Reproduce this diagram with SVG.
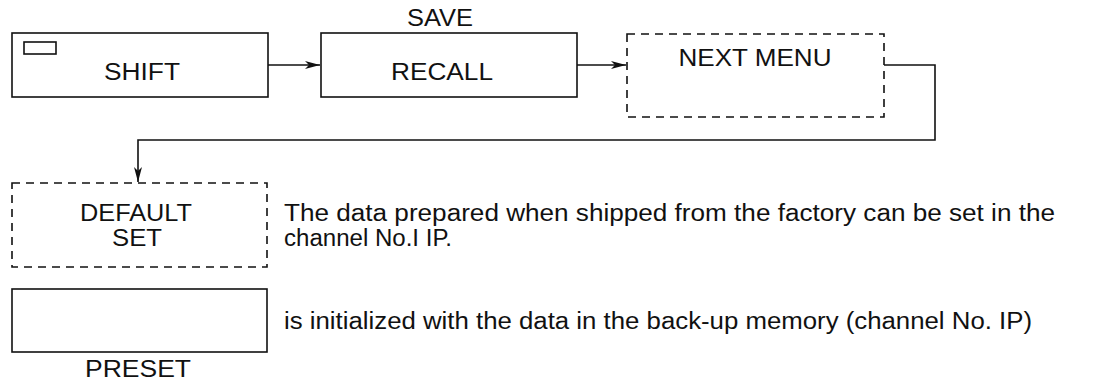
<svg xmlns="http://www.w3.org/2000/svg" width="1095" height="383" viewBox="0 0 1095 383">
<style>
.box{fill:none;stroke:#111;stroke-width:1.6}
.dash{fill:none;stroke:#111;stroke-width:1.6;stroke-dasharray:8 6}
.lbl{font-family:"Liberation Sans",Arial,sans-serif;font-size:23px;fill:#111;text-anchor:middle}
.txt{font-family:"Liberation Sans",Arial,sans-serif;font-size:23px;fill:#111}
.con{fill:none;stroke:#111;stroke-width:1.6}
</style>
<defs>
<marker id="ah" markerWidth="16" markerHeight="10" refX="15" refY="5" orient="auto" markerUnits="userSpaceOnUse">
<path d="M0,1 L15,5 L0,9 L4,5 Z" fill="#111"/>
</marker>
</defs>
<g id="connectors">
<line class="con" x1="268" y1="65" x2="320" y2="65" marker-end="url(#ah)"/>
<line class="con" x1="577" y1="65" x2="626" y2="65" marker-end="url(#ah)"/>
<polyline class="con" points="884,65 935,65 935,140 138,140 138,182" marker-end="url(#ah)"/>
</g>
<g id="shift">
<rect class="box" x="12" y="33" width="256" height="64"/>
<rect class="box" x="24" y="42" width="32" height="12"/>
<text class="lbl" x="142" y="80" textLength="76" lengthAdjust="spacingAndGlyphs">SHIFT</text>
</g>
<g id="recall">
<rect class="box" x="321" y="33" width="256" height="64"/>
<text class="lbl" x="440" y="26" textLength="66" lengthAdjust="spacingAndGlyphs">SAVE</text>
<text class="lbl" x="442" y="80" textLength="102" lengthAdjust="spacingAndGlyphs">RECALL</text>
</g>
<g id="nextmenu">
<rect class="dash" x="627" y="34" width="257" height="83"/>
<text class="lbl" x="755" y="66" textLength="153" lengthAdjust="spacingAndGlyphs">NEXT MENU</text>
</g>
<g id="defaultset">
<rect class="dash" x="12" y="183" width="255" height="84"/>
<text class="lbl" x="136" y="221" textLength="112" lengthAdjust="spacingAndGlyphs">DEFAULT</text>
<text class="lbl" x="137" y="246" textLength="50" lengthAdjust="spacingAndGlyphs">SET</text>
</g>
<g id="preset">
<rect class="box" x="12" y="289" width="255" height="63"/>
<text class="lbl" x="138" y="377" textLength="106" lengthAdjust="spacingAndGlyphs">PRESET</text>
</g>
<g id="notes">
<text class="txt" x="284" y="221" textLength="771" lengthAdjust="spacingAndGlyphs">The data prepared when shipped from the factory can be set in the</text>
<text class="txt" x="284" y="246" textLength="168" lengthAdjust="spacingAndGlyphs">channel No.I IP.</text>
<text class="txt" x="284" y="329" textLength="748" lengthAdjust="spacingAndGlyphs">is initialized with the data in the back-up memory (channel No. IP)</text>
</g>
</svg>
